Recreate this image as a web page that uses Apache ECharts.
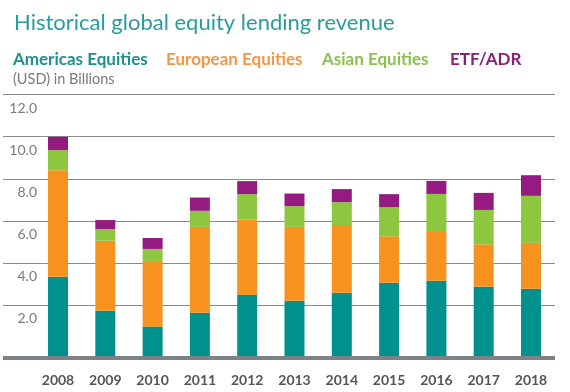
<!DOCTYPE html>
<html>
<head>
<meta charset="utf-8">
<script src="https://cdn.jsdelivr.net/npm/echarts@6/dist/echarts.min.js"></script>
<style>
html,body{margin:0;padding:0;background:#fff;}
#c{width:570px;height:392px;}
</style>
</head>
<body>
<div id="c"></div>
<script>
const years = ['2008','2009','2010','2011','2012','2013','2014','2015','2016','2017','2018'];
const americas = [3.81, 2.20, 1.44, 2.10, 2.94, 2.67, 3.05, 3.53, 3.62, 3.34, 3.24];
const european = [5.06, 3.32, 3.12, 4.08, 3.59, 3.51, 3.21, 2.20, 2.36, 2.01, 2.18];
const asian    = [0.95, 0.55, 0.57, 0.76, 1.20, 0.98, 1.09, 1.38, 1.76, 1.63, 2.23];
const etf      = [0.63, 0.43, 0.52, 0.63, 0.62, 0.60, 0.62, 0.62, 0.62, 0.81, 0.98];
const seriesNames = ['Americas Equities','European Equities','Asian Equities','ETF/ADR'];
const barColors = ['#00918f','#f7921e','#8dc63f','#941b80'];
const legendColors = ['#1f8f8e','#f2964a','#8cc04f','#8b1f78'];
const yTicks = [0, 2, 4, 6, 8, 10, 12];

const FONT = 'Lato, "Noto Sans", sans-serif';
const chart = echarts.init(document.getElementById('c'), null, {renderer:'canvas'});

const seriesData = [americas, european, asian, etf];
const series = seriesNames.map((n, i) => ({
  name: n,
  type: 'bar',
  stack: 'total',
  xAxisIndex: 0,
  yAxisIndex: 0,
  barWidth: 20,
  itemStyle: {color: barColors[i]},
  data: seriesData[i],
  z: 2
}));

const legendLefts = [13, 166, 322, 450];
const legends = seriesNames.map((n, i) => ({
  left: legendLefts[i] - 10, top: 46,
  itemWidth: 0, itemHeight: 0, itemGap: 0,
  icon: 'rect',
  selectedMode: false,
  data: [{name: n, textStyle: {color: legendColors[i]}}],
  textStyle: {fontFamily: FONT, fontSize: 17, fontWeight: 'bold'}
}));

const yMin = yTicks[0], yMax = yTicks[yTicks.length-1];

chart.setOption({
  animation: false,
  textStyle: {fontFamily: FONT},
  title: [{
    text: 'Historical global equity lending revenue',
    left: 9, top: 7,
    textStyle: {fontFamily: FONT, fontSize: 22, fontWeight: 'normal', color: '#2a9c9b'}
  }, {
    text: '(USD) in Billions',
    left: 8, top: 67,
    textStyle: {fontFamily: FONT, fontSize: 14.5, fontWeight: 'normal', color: '#7a7a7a'}
  }],
  legend: legends,
  grid: [
    // bars
    {left: 34.35, right: 15.35, top: 104.2, bottom: 35},
    // gridlines
    {left: 3, right: 15, top: 94.5, bottom: 44.5},
    // tick labels
    {left: 40, right: 15, top: 108.2, bottom: 31},
    // baseline
    {left: 3, right: 15, top: 100, bottom: 34}
  ],
  xAxis: [{
    type: 'category', gridIndex: 0, data: years,
    axisLine: {show: false}, axisTick: {show: false},
    axisLabel: {fontFamily: FONT, fontSize: 14, fontWeight: 'bold', color: '#555', margin: 16}
  }, {
    type: 'category', gridIndex: 1, data: [''], show: false
  }, {
    type: 'category', gridIndex: 2, data: [''], show: false
  }, {
    type: 'category', gridIndex: 3, data: [''], show: false
  }],
  yAxis: [{
    type: 'value', gridIndex: 0, min: yMin, max: yMax, interval: 2, show: false
  }, {
    type: 'value', gridIndex: 1, min: yMin, max: yMax, interval: 2,
    axisLine: {show: false}, axisTick: {show: false}, axisLabel: {show: false},
    splitLine: {show: true, showMinLine: false, lineStyle: {color: '#8a8a8a', width: 1}}
  }, {
    type: 'value', gridIndex: 2, min: yMin, max: yMax, interval: 2,
    axisLine: {show: false}, axisTick: {show: false}, splitLine: {show: false},
    axisLabel: {
      fontFamily: FONT, fontSize: 14, color: '#7a7a7a', margin: 3,
      formatter: v => v === 0 ? '' : v.toFixed(1)
    }
  }, {
    type: 'value', gridIndex: 3, min: 0, max: 1, interval: 1, z: 5,
    axisLine: {show: false}, axisTick: {show: false}, axisLabel: {show: false},
    splitLine: {show: true, showMinLine: true, showMaxLine: false,
      lineStyle: {color: '#7d8287', width: 4}}
  }],
  series: series
});
</script>
</body>
</html>
